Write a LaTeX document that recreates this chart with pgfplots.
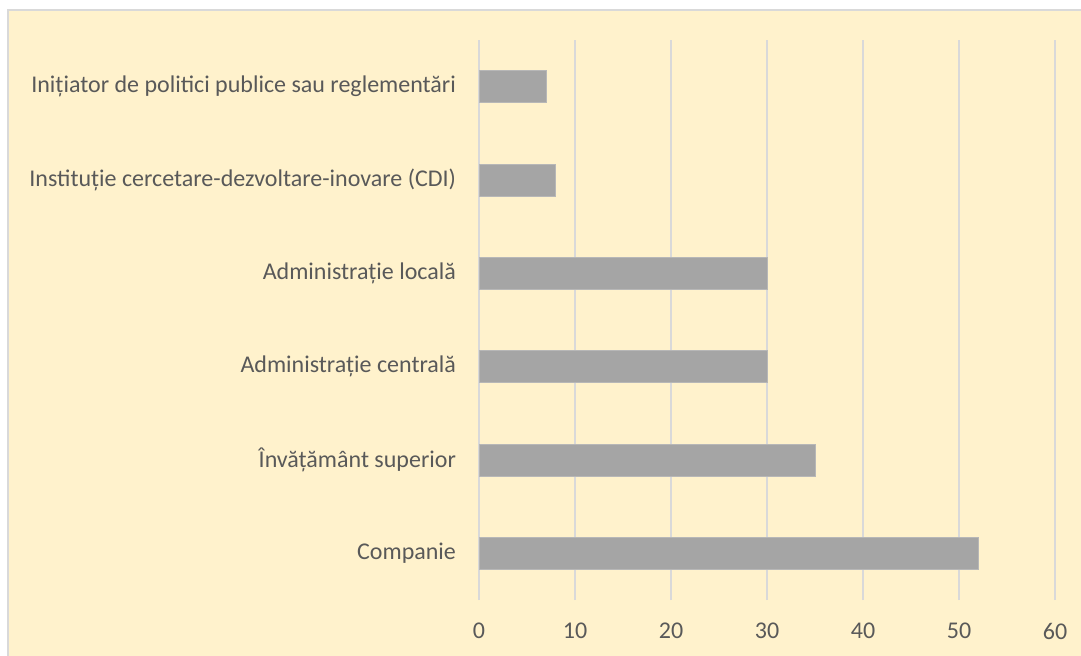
\documentclass[border=0pt]{standalone}
\usepackage{pgfplots}
\pgfplotsset{compat=1.18}
\usepackage{fontspec}
\setmainfont{Carlito}
\definecolor{bgc}{HTML}{FFF2CC}
\definecolor{brd}{HTML}{D9D9D9}
\definecolor{barc}{HTML}{A5A5A5}
\definecolor{txt}{HTML}{595959}
\begin{document}
\begin{tikzpicture}
\useasboundingbox (0,0) rectangle (540.5pt,327.5pt);
\fill[white] (0,0) rectangle (540.5pt,327.5pt);
\fill[bgc] (4pt,-1pt) rectangle (542pt,322.5pt);
\draw[brd,line width=1pt] (4pt,-1pt) -- (4pt,322.5pt) -- (542pt,322.5pt);
\begin{axis}[
  at={(239.5pt,27.5pt)}, anchor=south west,
  scale only axis, width=288pt, height=280pt,
  xmin=0, xmax=60, ymin=-0.5, ymax=5.5,
  xbar, bar width=16pt,
  axis line style={draw=none},
  major tick length=0pt,
  xtick={0,10,...,60},
  ytick={0,1,2,3,4,5},
  yticklabels={Companie,Învățământ superior,Administrație centrală,Administrație locală,Instituție cercetare-dezvoltare-inovare (CDI),Inițiator de politici publice sau reglementări},
  xmajorgrids, grid style={brd,line width=0.75pt},
  tick label style={font=\fontsize{12}{14}\selectfont, text=txt},
  /pgf/number format/assume math mode=true,
  xticklabel style={yshift=-8pt},
  yticklabel style={xshift=-8pt},
  clip=false,
]
\addplot[fill=barc, draw=barc!80!white, line width=0.5pt] coordinates {
(52,0) (35,1) (30,2) (30,3) (8,4) (7,5)
};
\end{axis}
\end{tikzpicture}
\end{document}
